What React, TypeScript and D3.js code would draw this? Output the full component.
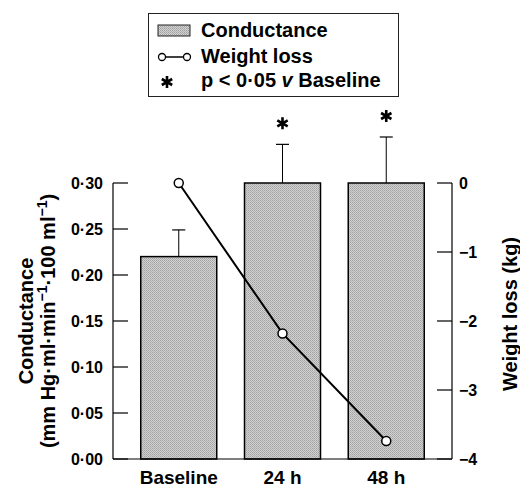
import React from "react";
import * as d3 from "d3";

const categories = ["Baseline", "24 h", "48 h"];
const conductance = [0.22, 0.3, 0.3];
const conductanceUpper = [0.249, 0.342, 0.35];
const significant = [false, true, true];
const weightLoss = [0, -2.18, -3.74];
const leftTicks = [0, 0.05, 0.1, 0.15, 0.2, 0.25, 0.3];
const rightTicks = [0, -1, -2, -3, -4];

const W = 520;
const H = 487;
const FONT = "'Liberation Sans', Arial, Helvetica, sans-serif";

const fmtLeft = (v: number) => v.toFixed(2).replace(".", "\u00b7");
const fmtRight = (v: number) => (v < 0 ? "\u2212" + Math.abs(v) : String(v));

function asteriskPath(cx: number, cy: number, r: number) {
  let d = "";
  for (let i = 0; i < 3; i++) {
    const a = (Math.PI / 3) * i + Math.PI / 2;
    const dx = Math.cos(a) * r;
    const dy = Math.sin(a) * r;
    d += `M${cx - dx},${cy - dy}L${cx + dx},${cy + dy}`;
  }
  return d;
}

export default function App() {
  const x = d3
    .scaleBand<string>()
    .domain(categories)
    .range([113, 452])
    .paddingInner(0.2675)
    .paddingOuter(0.2675);
  const yL = d3.scaleLinear().domain([0, 0.3]).range([459, 183]);
  const yR = d3.scaleLinear().domain([-4, 0]).range([459, 183]);
  const bw = x.bandwidth();
  const cx = (c: string) => (x(c) as number) + bw / 2;

  const line = d3
    .line<number>()
    .x((_, i) => cx(categories[i]))
    .y((d) => yR(d));

  const tickLen = 15;

  return (
    <svg
      width={W}
      height={H}
      style={{ position: "absolute", left: 0, top: 0, background: "#fff" }}
      fontFamily={FONT}
    >
      <defs>
        <pattern id="stip" width="2" height="2" patternUnits="userSpaceOnUse">
          <rect width="2" height="2" fill="#d2d2d2" />
          <rect width="1" height="1" fill="#a0a0a0" />
          <rect x="1" y="1" width="1" height="1" fill="#b0b0b0" />
        </pattern>
      </defs>

      {/* Legend */}
      <rect x={148.5} y={13.5} width={250} height={83} fill="#fff" stroke="#222" strokeWidth={1} />
      <rect x={158} y={25} width={32} height={11} fill="url(#stip)" stroke="#222" strokeWidth={1} />
      <line x1={162} x2={187} y1={57} y2={57} stroke="#000" strokeWidth={1.5} />
      <circle cx={162} cy={57} r={3.5} fill="#fff" stroke="#000" strokeWidth={1.3} />
      <circle cx={187} cy={57} r={3.5} fill="#fff" stroke="#000" strokeWidth={1.3} />
      <path d={asteriskPath(167, 82, 6)} stroke="#000" strokeWidth={2.6} />
      <g fontSize={20} fontWeight="bold" fill="#000">
        <text x={201} y={37}>Conductance</text>
        <text x={201} y={63}>Weight loss</text>
        <text x={201} y={87}>
          p &lt; 0·05 <tspan fontStyle="italic">v</tspan> Baseline
        </text>
      </g>

      {/* Bars */}
      {categories.map((c, i) => (
        <g key={c}>
          <line
            x1={cx(c)}
            x2={cx(c)}
            y1={yL(conductance[i])}
            y2={yL(conductanceUpper[i])}
            stroke="#000"
            strokeWidth={1}
          />
          <line
            x1={cx(c) - 6.5}
            x2={cx(c) + 6.5}
            y1={yL(conductanceUpper[i])}
            y2={yL(conductanceUpper[i])}
            stroke="#000"
            strokeWidth={1.2}
          />
          <rect
            x={x(c)}
            y={yL(conductance[i])}
            width={bw}
            height={yL(0) - yL(conductance[i])}
            fill="url(#stip)"
            stroke="#000"
            strokeWidth={1.5}
          />
          {significant[i] && (
            <path
              d={asteriskPath(cx(c), yL(conductanceUpper[i]) - 21, 6)}
              stroke="#000"
              strokeWidth={2.6}
            />
          )}
        </g>
      ))}

      {/* Left axis */}
      <line x1={113} x2={113} y1={yL(0.3)} y2={yL(0)} stroke="#000" strokeWidth={1.2} />
      {leftTicks.map((t) => (
        <g key={t}>
          <line x1={113} x2={113 + tickLen} y1={yL(t)} y2={yL(t)} stroke="#000" strokeWidth={1.2} />
          <text
            x={103}
            y={yL(t)}
            dy="0.35em"
            textAnchor="end"
            fontSize={16}
            fontWeight="bold"
          >
            {fmtLeft(t)}
          </text>
        </g>
      ))}

      {/* Right axis */}
      <line x1={452} x2={452} y1={yR(0)} y2={yR(-4)} stroke="#000" strokeWidth={1.2} />
      {rightTicks.map((t) => (
        <g key={t}>
          <line x1={452 - tickLen} x2={452} y1={yR(t)} y2={yR(t)} stroke="#000" strokeWidth={1.2} />
          <text x={459} y={yR(t)} dy="0.35em" fontSize={16} fontWeight="bold">
            {fmtRight(t)}
          </text>
        </g>
      ))}

      {/* Baseline */}
      <line x1={113} x2={452} y1={yL(0)} y2={yL(0)} stroke="#000" strokeWidth={1.2} />

      {/* Weight loss line */}
      <path d={line(weightLoss) || ""} fill="none" stroke="#000" strokeWidth={2} />
      {weightLoss.map((v, i) => (
        <circle
          key={i}
          cx={cx(categories[i])}
          cy={yR(v)}
          r={4.5}
          fill="#fff"
          stroke="#000"
          strokeWidth={1.5}
        />
      ))}

      {/* Category labels */}
      {categories.map((c) => (
        <text key={c} x={cx(c)} y={484} textAnchor="middle" fontSize={19} fontWeight="bold">
          {c}
        </text>
      ))}

      {/* Left title */}
      <g fontSize={20} fontWeight="bold">
        <text transform="translate(33,321) rotate(-90)" textAnchor="middle">
          Conductance
        </text>
        <text transform="translate(55,321) rotate(-90)" textAnchor="middle">
          (mm Hg·ml·min
          <tspan fontSize={14} dy={-8}>
            −1
          </tspan>
          <tspan dy={8}>·100 ml</tspan>
          <tspan fontSize={14} dy={-8}>
            −1
          </tspan>
          <tspan dy={8}>)</tspan>
        </text>
      </g>

      {/* Right title */}
      <text
        transform="translate(517,314) rotate(-90)"
        textAnchor="middle"
        fontSize={20}
        fontWeight="bold"
      >
        Weight loss (kg)
      </text>
    </svg>
  );
}
